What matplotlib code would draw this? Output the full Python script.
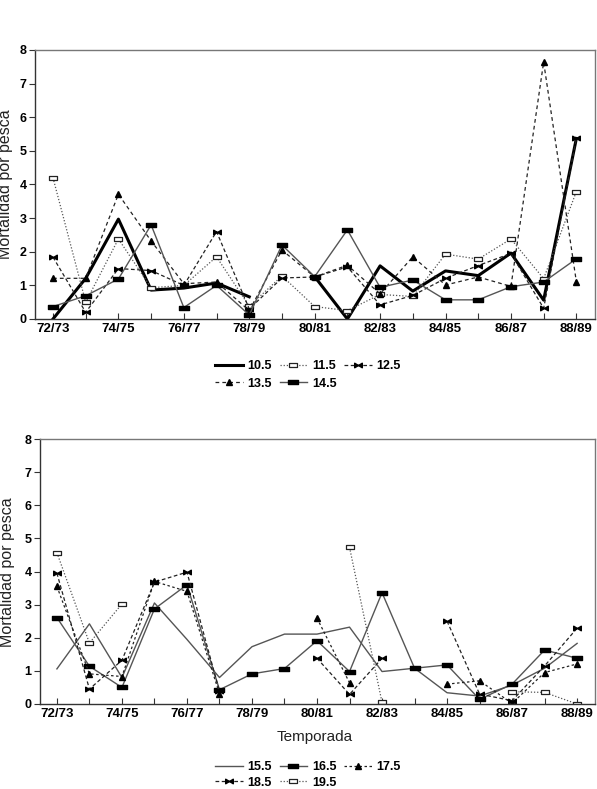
import numpy as np
import matplotlib
matplotlib.use('Agg')
import matplotlib.pyplot as plt
from matplotlib.path import Path

nan = np.nan

seasons = ['72/73', '73/74', '74/75', '75/76', '76/77', '77/78', '78/79', '79/80',
           '80/81', '81/82', '82/83', '83/84', '84/85', '85/86', '86/87', '87/88', '88/89']

# upper panel
s105 = [0.0, 1.21, 2.97, 0.86, 0.92, 1.07, 0.66, nan, 1.26, 0.0, 1.58, 0.83, 1.43, 1.29, 1.96, 0.56, 5.37]
s115 = [4.2, 0.5, 2.38, 0.93, 1.0, 1.85, 0.38, 1.28, 0.37, 0.25, 0.73, 0.67, 1.93, 1.78, 2.38, 1.2, 3.79]
s125 = [1.84, 0.2, 1.5, 1.44, 1.0, 2.6, 0.3, 1.22, 1.25, 1.55, 0.42, 0.7, 1.21, 1.59, 1.95, 0.32, 5.37]
s135 = [1.21, 1.21, 3.71, 2.32, 1.05, 1.1, 0.25, 2.05, 1.25, 1.6, 0.75, 1.85, 1.01, 1.25, 0.97, 7.64, 1.11]
s145 = [0.37, 0.69, 1.19, 2.8, 0.34, 1.0, 0.12, 2.2, 1.26, 2.65, 0.94, 1.16, 0.57, 0.57, 0.96, 1.1, 1.79]

# lower panel
s155 = [1.06, 2.42, 0.8, 3.05, 1.95, 0.8, 1.73, 2.11, 2.11, 2.32, 0.98, 1.08, 0.34, 0.24, 0.57, 1.08, 1.83]
s165 = [2.61, 1.14, 0.5, 2.87, 3.6, 0.43, 0.91, 1.07, 1.91, 0.98, 3.36, 1.08, 1.18, 0.14, 0.6, 1.63, 1.38]
s175 = [3.55, 0.91, 0.83, 3.7, 3.4, 0.31, nan, nan, 2.59, 0.64, nan, nan, 0.6, 0.7, 0.02, 0.95, 1.21]
s185 = [3.95, 0.45, 1.32, 3.68, 3.98, 0.38, nan, nan, 1.38, 0.29, 1.38, nan, 2.5, 0.3, 0.1, 1.15, 2.29]
s195 = [4.57, 1.84, 3.02, nan, nan, nan, nan, nan, nan, 4.73, 0.05, nan, nan, nan, 0.37, 0.35, 0.0]

plt.rcParams['font.family'] = ['Liberation Sans', 'DejaVu Sans']

# marker shapes
rect = Path([(-1, -0.55), (1, -0.55), (1, 0.55), (-1, 0.55), (-1, -0.55)],
            [Path.MOVETO, Path.LINETO, Path.LINETO, Path.LINETO, Path.CLOSEPOLY])
bowtie = Path([(-1, -0.6), (0, 0), (1, -0.6), (1, 0.6), (0, 0), (-1, 0.6), (-1, -0.6)],
              [Path.MOVETO, Path.LINETO, Path.LINETO, Path.LINETO, Path.LINETO, Path.LINETO, Path.CLOSEPOLY])

x = np.arange(len(seasons))

fig = plt.figure(figsize=(5.97, 7.89), dpi=100)
ax1 = fig.add_axes([35 / 597, 1 - 319 / 789, 560 / 597, 269 / 789])
ax2 = fig.add_axes([40 / 597, 1 - 704 / 789, 555 / 597, 265 / 789])

dark = '#222222'
grey = '#555555'

ax1.plot(x, s105, color='black', lw=2.2, label='10.5')
ax1.plot(x, s115, color=grey, lw=0.9, ls=(0, (1, 1.5)), marker=rect, ms=6,
         mfc='white', mec=dark, mew=0.9, label='11.5')
ax1.plot(x, s125, color=dark, lw=0.9, ls=(0, (3, 2)), marker=bowtie, ms=5.5,
         mfc='black', mec='black', label='12.5')
ax1.plot(x, s135, color=dark, lw=0.9, ls=(0, (3, 2.5)), marker='^', ms=4.5,
         mfc='black', mec='black', label='13.5')
ax1.plot(x, s145, color=grey, lw=1.0, marker=rect, ms=6.5,
         mfc='black', mec='black', label='14.5')

ax2.plot(x, s155, color=grey, lw=1.0, label='15.5')
ax2.plot(x, s165, color=grey, lw=1.0, marker=rect, ms=6.5,
         mfc='black', mec='black', label='16.5')
ax2.plot(x, s175, color=dark, lw=0.9, ls=(0, (2, 2)), marker='^', ms=4.5,
         mfc='black', mec='black', label='17.5')
ax2.plot(x, s185, color=dark, lw=0.9, ls=(0, (3, 2)), marker=bowtie, ms=5.5,
         mfc='black', mec='black', label='18.5')
ax2.plot(x, s195, color=grey, lw=0.9, ls=(0, (1, 1.5)), marker=rect, ms=6,
         mfc='white', mec=dark, mew=0.9, label='19.5')

for ax, xl in ((ax1, (-0.55, 16.57)), (ax2, (-0.52, 16.55))):
    ax.set_xlim(*xl)
    ax.set_ylim(0, 8)
    ax.set_yticks(range(9))
    ax.set_xticks(x)
    ax.set_xticklabels([s if i % 2 == 0 else '' for i, s in enumerate(seasons)],
                       fontsize=9.5, fontweight='bold')
    for lab in ax.get_yticklabels():
        lab.set_fontweight('bold')
        lab.set_fontsize(9)
    ax.tick_params(axis='x', direction='in', length=4, width=0.8, pad=3, colors='#333333',
                   labelcolor='black')
    ax.tick_params(axis='y', direction='out', length=4, width=0.8, pad=2, colors='#333333',
                   labelcolor='black')
    for sp in ax.spines.values():
        sp.set_color('#777777')
        sp.set_linewidth(1.0)
    ax.spines['left'].set_color('#333333')
    ax.spines['bottom'].set_color('#333333')

fig.text(6 / 597, 1 - 184 / 789, 'Mortalidad por pesca', rotation=90,
         ha='center', va='center', fontsize=11.5, color='#222222')
fig.text(8 / 597, 1 - 572 / 789, 'Mortalidad por pesca', rotation=90,
         ha='center', va='center', fontsize=11.5, color='#222222')
fig.text(315 / 597, 1 - 737 / 789, 'Temporada', ha='center', va='center',
         fontsize=11, color='#222222')

leg_kw = dict(ncol=3, frameon=False, handlelength=2.2, handletextpad=0.4,
              columnspacing=0.6, labelspacing=0.45, borderaxespad=0,
              prop={'weight': 'bold', 'size': 9})


def row_order(h, l):
    # legend fills by column; reorder so entries read across rows
    idx = [0, 3, 1, 4, 2]
    return [h[i] for i in idx], [l[i] for i in idx]


h1, l1 = row_order(*ax1.get_legend_handles_labels())
fig.legend(h1, l1, loc='upper left', bbox_to_anchor=(210 / 597, 1 - 355 / 789), **leg_kw)
h2, l2 = row_order(*ax2.get_legend_handles_labels())
leg_kw['labelspacing'] = 0.3
fig.legend(h2, l2, loc='upper left', bbox_to_anchor=(210 / 597, 1 - 756 / 789), **leg_kw)

fig.savefig('out.png', dpi=100)
